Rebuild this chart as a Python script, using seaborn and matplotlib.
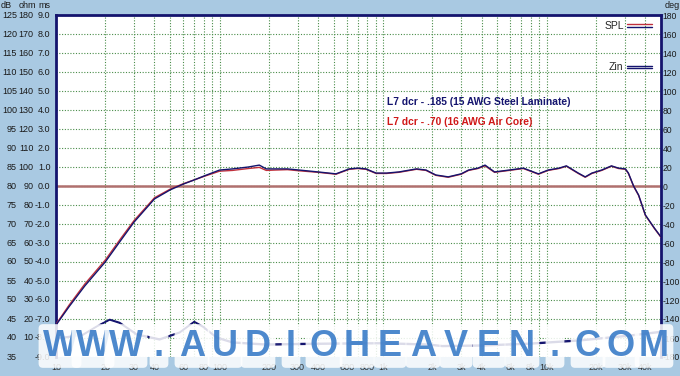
import numpy as np
import pandas as pd
import matplotlib
matplotlib.use("Agg")
import matplotlib.pyplot as plt
import matplotlib.patheffects as pe
import matplotlib.transforms as mtrans
from matplotlib.lines import Line2D
import seaborn as sns

sns.set_theme(style="white")
plt.rcParams['font.family'] = ['Liberation Sans', 'DejaVu Sans']

# ---------------- data ----------------
freq_spl = [10, 12, 15, 20, 25, 30, 40, 50, 60, 70, 80, 100, 120, 150, 175, 193, 220, 260, 307,
            400, 515, 621, 700, 785, 906, 1050, 1250, 1600, 1830, 2100, 2500, 3000, 3330, 3800,
            4200, 4800, 5900, 7200, 8900, 10200, 11900, 13200, 15600, 17200, 18900, 21700,
            24900, 27500, 30300, 31600, 34000, 36500, 40100, 45600, 50000]
spl_steel = [43.4, 48.2, 53.7, 60.0, 65.8, 70.5, 76.6, 79.0, 80.5, 81.6, 82.6, 84.2, 84.5, 85.0,
             85.5, 84.5, 84.5, 84.5, 84.2, 83.7, 83.2, 84.5, 84.7, 84.5, 83.4, 83.4, 83.7, 84.5,
             84.2, 82.9, 82.4, 83.2, 84.2, 84.7, 85.5, 83.7, 84.2, 84.7, 83.2, 84.2, 84.7, 85.3,
             83.4, 82.4, 83.4, 84.2, 85.3, 84.7, 84.5, 83.4, 80.0, 77.6, 72.4, 68.9, 66.6]
spl_aircore = [43.6, 48.6, 54.2, 60.5, 66.3, 70.9, 76.9, 79.2, 80.6, 81.6, 82.5, 83.9, 84.1, 84.6,
               84.9, 84.1, 84.2, 84.3, 84.0, 83.6, 83.1, 84.4, 84.6, 84.4, 83.3, 83.3, 83.6, 84.4,
               84.1, 82.8, 82.3, 83.1, 84.1, 84.6, 85.3, 83.6, 84.1, 84.6, 83.1, 84.1, 84.6, 85.2,
               83.3, 82.3, 83.3, 84.1, 85.2, 84.6, 84.4, 83.3, 79.9, 77.5, 72.3, 68.8, 66.5]

freq_z = [10, 12.2, 14.6, 17.8, 21.3, 24.5, 31.2, 43, 57, 70, 79, 96, 120, 193, 307, 489, 984,
          1900, 2300, 4000, 8000, 16000, 32000, 50000]
z_steel = [9.5, 10.5, 11.5, 16.0, 19.5, 17.8, 11.6, 9.0, 12.7, 18.4, 15.8, 10.0, 7.4, 6.3, 6.6,
           6.8, 7.0, 6.3, 5.5, 5.8, 6.8, 8.5, 11.0, 13.0]
z_aircore = [9.9, 10.9, 11.9, 16.3, 19.8, 18.2, 12.1, 9.5, 13.1, 18.7, 16.2, 10.5, 7.9, 6.8, 7.1,
             7.3, 7.5, 6.8, 6.0, 6.3, 7.3, 9.0, 11.5, 13.5]

ref_line_db = 80.0

xtick_freqs = [10, 20, 30, 40, 60, 80, 100, 200, 300, 400, 600, 800, 1000, 2000, 3000, 4000,
               6000, 8000, 10000, 20000, 30000, 40000]
xtick_labels = ["10", "20", "30", "40", "60", "80", "100", "200", "300", "400", "600", "800",
                "1k", "2k", "3k", "4k", "6k", "8k", "10k", "20k", "30k", "40k"]
db_ticks = list(range(35, 130, 5))
deg_ticks = list(range(-180, 181, 20))

note_steel = "L7 dcr - .185 (15 AWG Steel Laminate)"
note_air = "L7 dcr - .70 (16 AWG Air Core)"
watermark = "WWW.AUDIOHEAVEN.COM"

# ---------------- colours ----------------
BG = "#a9c9e2"
NAVY = "#14146e"
RED = "#c0303c"
GRID = "#4a8d4a"
TXT = "#1a1a1a"

W, H = 680, 376
fig = plt.figure(figsize=(W / 100, H / 100), dpi=100, facecolor=BG)
ax = fig.add_axes([56 / W, 1 - 357 / H, 605 / W, 342 / H])
ax.set_facecolor("white")
ax.set_xscale("log")
ax.set_xlim(10, 50000)
ax.set_ylim(35, 125)

grid_freqs = [m * 10 ** e for e in range(1, 5) for m in range(1, 10) if 10 <= m * 10 ** e <= 50000]
ax.set_xticks(grid_freqs)
ax.set_xticklabels([xtick_labels[xtick_freqs.index(f)] if f in xtick_freqs else "" for f in grid_freqs])
ax.xaxis.set_minor_locator(matplotlib.ticker.NullLocator())
ax.set_yticks(db_ticks)
ax.set_yticklabels([])
ax.tick_params(axis="both", length=0, pad=2)
ax.tick_params(axis="x", labelsize=6.5, labelcolor="#303030", pad=4)
ax.grid(True, which="major", color=GRID, linestyle=(0, (1, 1.5)), linewidth=0.8)

ax.axhline(ref_line_db, color="#b0706e", lw=1.8, zorder=2)

df_spl = pd.DataFrame({"f": freq_spl * 2,
                       "spl": spl_aircore + spl_steel,
                       "coil": ["air"] * len(freq_spl) + ["steel"] * len(freq_spl)})
df_z = pd.DataFrame({"f": freq_z * 2,
                     "ohm": z_aircore + z_steel,
                     "coil": ["air"] * len(freq_z) + ["steel"] * len(freq_z)})
df_z["db"] = (df_z["ohm"] + 70) / 2.0

sns.lineplot(data=df_spl, x="f", y="spl", hue="coil", palette={"air": RED, "steel": NAVY},
             ax=ax, lw=1.0, legend=False, estimator=None, sort=False, zorder=3)
sns.lineplot(data=df_z, x="f", y="db", hue="coil", palette={"air": NAVY, "steel": NAVY},
             ax=ax, lw=1.0, legend=False, estimator=None, sort=False, zorder=3)
ax.set_xlabel("")
ax.set_ylabel("")

for s in ["left", "top", "right"]:
    ax.spines[s].set_color(NAVY)
    ax.spines[s].set_linewidth(2)
ax.spines["bottom"].set_visible(False)

ax2 = ax.twinx()
ax2.set_ylim(-180, 180)
ax2.set_yticks(deg_ticks)
ax2.set_yticklabels([str(d) for d in deg_ticks])
ax2.tick_params(axis="y", length=0, pad=1.2, labelsize=6.2, labelcolor=TXT)
for s in ax2.spines.values():
    s.set_visible(False)
ax2.grid(False)

tr = mtrans.blended_transform_factory(fig.transFigure, ax.transData)
for v in db_ticks:
    ax.text(17 / W, v, str(v), transform=tr, ha="right", va="center", fontsize=6.5, color=TXT)
    ohm = 2 * v - 70
    if ohm > 0:
        ax.text(33.5 / W, v, str(ohm), transform=tr, ha="right", va="center", fontsize=6.5, color=TXT)
    ax.text(50.5 / W, v, f"{(v - 80) / 5:.1f}", transform=tr, ha="right", va="center", fontsize=6.5, color=TXT)
fig.text(1 / W, 1 - 6 / H, "dB", fontsize=6.5, va="center", color=TXT)
fig.text(19 / W, 1 - 6 / H, "ohm", fontsize=6.5, va="center", color=TXT)
fig.text(38 / W, 1 - 6 / H, "ms", fontsize=6.5, va="center", color=TXT)
fig.text(665 / W, 1 - 6 / H, "deg", fontsize=6.5, va="center", color=TXT)

ax.text(1057, 102.1, note_steel, color=NAVY, fontsize=7.4, fontweight="bold", va="center")
ax.text(1057, 96.8, note_air, color="#d01818", fontsize=7.4, fontweight="bold", va="center")

h_spl = Line2D([], [], color=RED, lw=1,
               path_effects=[pe.Stroke(offset=(0, 0.9), linewidth=1, foreground=RED),
                             pe.Stroke(offset=(0, -0.9), linewidth=1, foreground=NAVY)])
h_z = Line2D([], [], color=NAVY, lw=1,
             path_effects=[pe.Stroke(offset=(0, 0.9), linewidth=1, foreground=NAVY),
                           pe.Stroke(offset=(0, -0.9), linewidth=1, foreground=NAVY)])
leg = ax.legend([h_spl, h_z], ["SPL", "Zin"], loc="upper right", frameon=False, markerfirst=False,
                fontsize=7.5, labelspacing=3.0, handlelength=2.4, handletextpad=0.3,
                borderaxespad=0.2, bbox_to_anchor=(0.995, 1.0))

for i, ch in enumerate(watermark):
    x = (60 + i * 33.0) / W
    fig.text(x, 1 - 346 / H, ch, fontsize=26, fontweight="bold", color="#3a7cc8", alpha=0.9,
             ha="center", va="center", zorder=10,
             bbox=dict(boxstyle="round,pad=0.12", fc="white", ec="none", alpha=0.85))

fig.savefig("out.png", dpi=100, facecolor=BG)
